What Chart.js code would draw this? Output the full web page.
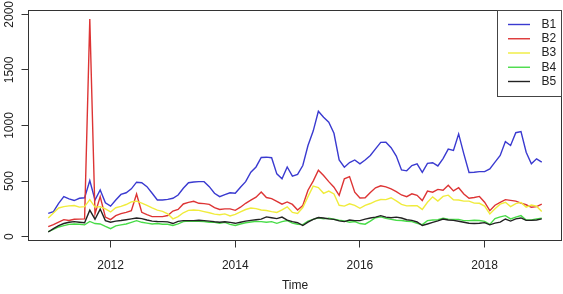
<!doctype html>
<html>
<head>
	<title>B1 - B5 monthly series</title>
	<script src="https://cdn.jsdelivr.net/npm/chart.js@4"></script>
	<style>
	html, body { margin: 0; padding: 0; background: #fff; }
	canvas { display: block; }
	</style>
</head>
<body>
	<canvas id="canvas" width="563" height="294"></canvas>
	<script>
		// monthly series, Jan 2011 .. Dec 2018
		var startYear = 2011;
		var perYear = 12;
		var seriesNames = ['B1', 'B2', 'B3', 'B4', 'B5'];
		var seriesColors = ['#3a3ad0', '#dd3434', '#f0ec3c', '#48dc48', '#222222'];
		var b1 = [210, 225, 300, 360, 340, 325, 345, 350, 505, 330,
			420, 305, 275, 330, 380, 395, 430, 490, 485, 450,
			390, 330, 330, 335, 345, 375, 435, 485, 492, 495,
			495, 450, 390, 360, 378, 395, 390, 445, 495, 580,
			627, 712, 715, 710, 565, 520, 627, 545, 560, 640,
			820, 950, 1128, 1075, 1030, 930, 690, 625, 667, 690,
			655, 690, 730, 790, 848, 850, 800, 725, 600, 592,
			640, 655, 578, 660, 665, 636, 702, 787, 776, 924,
			745, 578, 580, 585, 585, 610, 670, 730, 855, 820,
			935, 945, 760, 655, 700, 670];
		var b2 = [90, 108, 130, 153, 145, 156, 158, 160, 1958, 205,
			360, 176, 153, 189, 207, 219, 234, 384, 219, 198,
			180, 180, 180, 190, 230, 245, 294, 309, 318, 300,
			297, 291, 261, 245, 250, 250, 237, 265, 300, 328,
			355, 402, 352, 342, 318, 292, 312, 290, 240, 280,
			418, 500, 598, 550, 495, 445, 372, 520, 540, 400,
			348, 350, 398, 440, 458, 448, 430, 405, 375, 360,
			385, 372, 325, 410, 400, 425, 418, 462, 412, 440,
			384, 345, 352, 362, 310, 234, 283, 309, 333, 326,
			320, 302, 287, 264, 270, 292];
		var b3 = [168, 212, 258, 270, 277, 280, 266, 270, 333, 266,
			270, 250, 222, 260, 272, 289, 313, 319, 302, 282,
			258, 238, 228, 205, 160, 180, 215, 236, 240, 236,
			225, 215, 203, 197, 205, 186, 200, 222, 244, 257,
			252, 240, 235, 225, 218, 240, 268, 218, 208, 262,
			360, 455, 442, 390, 410, 384, 282, 275, 295, 282,
			255, 282, 298, 320, 334, 333, 350, 322, 290, 277,
			278, 279, 245, 309, 358, 321, 362, 373, 332, 330,
			320, 320, 302, 300, 275, 204, 252, 292, 309, 270,
			297, 308, 266, 284, 274, 226];
		var b4 = [45, 65, 87, 99, 110, 114, 112, 106, 137, 118,
			114, 92, 72, 97, 106, 114, 129, 144, 129, 122,
			114, 118, 112, 112, 100, 115, 135, 140, 138, 138,
			136, 130, 128, 120, 128, 110, 100, 114, 125, 132,
			137, 135, 130, 135, 120, 135, 145, 122, 112, 108,
			140, 155, 170, 160, 165, 157, 148, 142, 130, 136,
			118, 112, 140, 170, 178, 165, 155, 148, 145, 138,
			135, 120, 108, 144, 150, 152, 166, 158, 155, 155,
			144, 144, 148, 145, 138, 110, 162, 178, 189, 160,
			175, 189, 150, 150, 160, 165];
		var b5 = [42, 72, 100, 118, 129, 135, 130, 125, 238, 157,
			248, 144, 130, 140, 145, 152, 160, 168, 162, 150,
			140, 136, 135, 133, 118, 138, 144, 144, 144, 148,
			144, 140, 134, 130, 134, 128, 120, 130, 140, 146,
			152, 158, 178, 170, 162, 176, 148, 135, 125, 100,
			130, 155, 172, 168, 160, 155, 142, 135, 150, 144,
			144, 158, 168, 176, 189, 176, 170, 176, 168, 152,
			146, 132, 100, 114, 128, 142, 158, 150, 146, 138,
			129, 120, 118, 120, 126, 106, 122, 130, 159, 140,
			160, 168, 146, 146, 150, 160];
		var xTicks = [2012, 2014, 2016, 2018];
		var yTicks = [0, 500, 1000, 1500, 2000];

		var seriesValues = [b1, b2, b3, b4, b5];
		var textFont = '12px "Liberation Sans", Arial, sans-serif';

		function toPoints(values) {
			return values.map(function(v, i) {
				return {x: startYear + i / perYear, y: v};
			});
		}

		// like R: the data range widened by 4% on each side
		function rRange(lo, hi) {
			var d = (hi - lo) * 0.04;
			return [lo - d, hi + d];
		}

		var allValues = [].concat.apply([], seriesValues);
		var yRange = rRange(Math.min.apply(null, allValues), Math.max.apply(null, allValues));
		var xRange = rRange(startYear, startYear + (b1.length - 1) / perYear);

		var framePlugin = {
			id: 'frame',
			afterDraw: function(chart) {
				var ctx = chart.ctx;
				var a = chart.chartArea;
				ctx.save();
				ctx.strokeStyle = '#333';
				ctx.lineWidth = 1;
				ctx.strokeRect(a.left, a.top, a.right - a.left, a.bottom - a.top);

				// y tick labels, turned like R's default
				var ys = chart.scales.y;
				ctx.fillStyle = '#222';
				ctx.font = textFont;
				ctx.textAlign = 'center';
				ctx.textBaseline = 'middle';
				yTicks.forEach(function(v) {
					ctx.save();
					ctx.translate(9.5, ys.getPixelForValue(v));
					ctx.rotate(-Math.PI / 2);
					ctx.fillText(String(v), 0, 0);
					ctx.restore();
				});

				// legend, top right
				var lx = 497.5, ly = 10.5;
				ctx.fillStyle = '#fff';
				ctx.fillRect(lx, ly, 64, 86);
				ctx.strokeStyle = '#444';
				ctx.strokeRect(lx, ly, 64, 86);
				ctx.textAlign = 'left';
				chart.data.datasets.forEach(function(ds, i) {
					var y = 24.5 + i * 14.25;
					ctx.strokeStyle = ds.borderColor;
					ctx.lineWidth = 1.4;
					ctx.beginPath();
					ctx.moveTo(508, y);
					ctx.lineTo(530, y);
					ctx.stroke();
					ctx.fillStyle = '#222';
					ctx.fillText(ds.label, 541.5, y);
				});
				ctx.restore();
			}
		};

		window.onload = function() {
			var ctx = document.getElementById('canvas').getContext('2d');
			window.myLine = new Chart(ctx, {
				type: 'line',
				data: {
					datasets: seriesNames.map(function(name, i) {
						return {
							label: name,
							data: toPoints(seriesValues[i]),
							borderColor: seriesColors[i],
							backgroundColor: seriesColors[i],
							borderWidth: 1.4,
							pointRadius: 0,
							tension: 0,
							fill: false,
							order: seriesNames.length - i
						};
					})
				},
				options: {
					responsive: false,
					animation: false,
					devicePixelRatio: 1,
					layout: {padding: {top: 10.5, right: 1.5, left: 0, bottom: 0}},
					plugins: {
						legend: {display: false},
						tooltip: {enabled: false}
					},
					scales: {
						x: {
							type: 'linear',
							min: xRange[0],
							max: xRange[1],
							afterBuildTicks: function(scale) {
								scale.ticks = xTicks.map(function(v) { return {value: v}; });
							},
							afterFit: function(scale) { scale.height = 53.5; },
							border: {display: false},
							grid: {drawOnChartArea: false, drawTicks: true, tickLength: 7, color: '#333'},
							ticks: {
								padding: 10.7,
								maxRotation: 0,
								autoSkip: false,
								color: '#222',
								font: {family: '"Liberation Sans", Arial, sans-serif', size: 12},
								callback: function(v) { return String(v); }
							},
							title: {
								display: true,
								text: 'Time',
								color: '#222',
								font: {family: '"Liberation Sans", Arial, sans-serif', size: 12},
								padding: {top: 0, bottom: 1}
							}
						},
						y: {
							type: 'linear',
							min: yRange[0],
							max: yRange[1],
							afterBuildTicks: function(scale) {
								scale.ticks = yTicks.map(function(v) { return {value: v}; });
							},
							afterFit: function(scale) { scale.width = 28.5; },
							border: {display: false},
							grid: {drawOnChartArea: false, drawTicks: true, tickLength: 7, color: '#333'},
							ticks: {display: false}
						}
					}
				},
				plugins: [framePlugin]
			});
		};
	</script>
</body>
</html>
